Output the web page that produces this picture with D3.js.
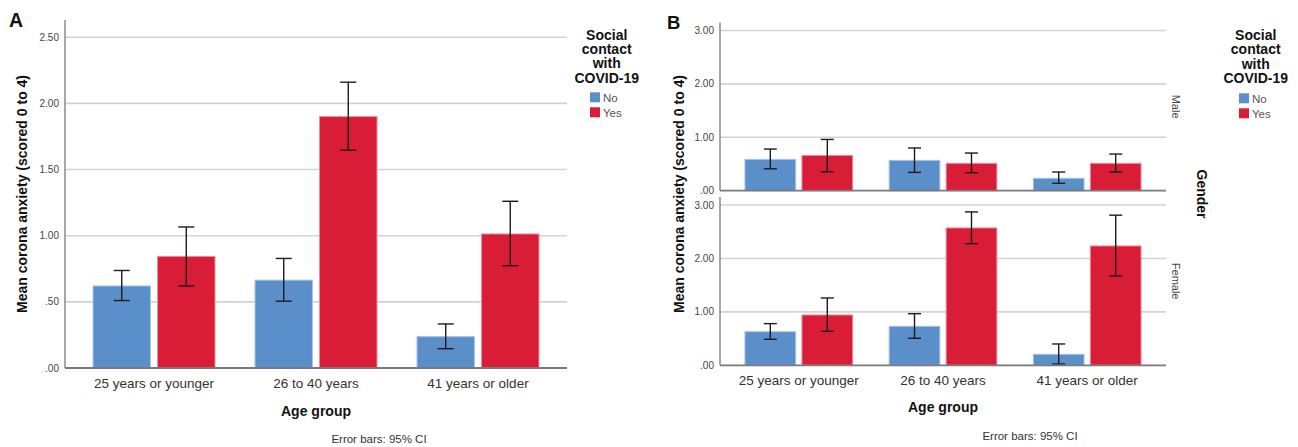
<!DOCTYPE html>
<html>
<head>
<meta charset="utf-8">
<script src="https://cdn.jsdelivr.net/npm/d3@7"></script>
<style>
  html, body { margin: 0; padding: 0; background: #fff; }
  svg { display: block; font-family: "Liberation Sans", Arial, sans-serif; }
</style>
</head>
<body>
<svg id="chart" width="1298" height="447"></svg>
<script>
// Categories
const ageGroups = ["25 years or younger", "26 to 40 years", "41 years or older"];
const contactLevels = ["No", "Yes"];
const genders = ["Male", "Female"];

// Panel A: mean corona anxiety by age group and social contact (95% CI)
const meanNoA  = [0.62, 0.664, 0.237];
const loNoA    = [0.51, 0.505, 0.146];
const hiNoA    = [0.737, 0.828, 0.333];
const meanYesA = [0.843, 1.90, 1.013];
const loYesA   = [0.62, 1.646, 0.773];
const hiYesA   = [1.066, 2.16, 1.26];

// Panel B, male
const meanNoMale  = [0.587, 0.568, 0.232];
const loNoMale    = [0.41, 0.343, 0.138];
const hiNoMale    = [0.78, 0.80, 0.35];
const meanYesMale = [0.66, 0.512, 0.512];
const loYesMale   = [0.355, 0.336, 0.35];
const hiYesMale   = [0.96, 0.705, 0.686];

// Panel B, female
const meanNoFemale  = [0.629, 0.73, 0.206];
const loNoFemale    = [0.487, 0.506, 0.024];
const hiNoFemale    = [0.78, 0.966, 0.399];
const meanYesFemale = [0.942, 2.571, 2.234];
const loYesFemale   = [0.637, 2.277, 1.672];
const hiYesFemale   = [1.26, 2.871, 2.81];

// Tick values
const ticksA = [0, 0.5, 1, 1.5, 2, 2.5];
const ticksB = [0, 1, 2, 3];

const fillColor = { No: "#5b8fca", Yes: "#d91d37" };
const edgeColor = { No: "#a7c4e6", Yes: "#ef8c99" };
const fmtTick = v => d3.format(".2f")(v).replace(/^0\./, ".");

const svg = d3.select("#chart");

function rows(mNo, lNo, hNo, mYes, lYes, hYes) {
  const out = [];
  ageGroups.forEach((g, i) => {
    out.push({ group: g, level: "No",  mean: mNo[i],  lo: lNo[i],  hi: hNo[i] });
    out.push({ group: g, level: "Yes", mean: mYes[i], lo: lYes[i], hi: hYes[i] });
  });
  return out;
}

// One bar panel: gridlines, bars, error bars, axes lines, y tick labels
function drawPanel(g, x0, y, data, ticks, capW) {
  const x1 = d3.scaleBand().domain(contactLevels).range([0, x0.bandwidth()]).paddingInner(0.11);
  const [xl, xr] = x0.range();
  const [yb, yt] = y.range();

  g.selectAll("line.grid").data(ticks.filter(t => t > 0)).join("line")
    .attr("x1", xl).attr("x2", xr)
    .attr("y1", d => y(d)).attr("y2", d => y(d))
    .attr("stroke", "#d3d3d3").attr("stroke-width", 1.6);

  g.selectAll("rect.bar").data(data).join("rect")
    .attr("x", d => x0(d.group) + x1(d.level))
    .attr("y", d => y(d.mean))
    .attr("width", x1.bandwidth())
    .attr("height", d => y(0) - y(d.mean))
    .attr("fill", d => fillColor[d.level])
    .attr("stroke", d => edgeColor[d.level])
    .attr("stroke-width", 1);

  const eb = g.selectAll("g.eb").data(data).join("g")
    .attr("transform", d => `translate(${x0(d.group) + x1(d.level) + x1.bandwidth() / 2},0)`);
  eb.append("line").attr("x1", 0).attr("x2", 0)
    .attr("y1", d => y(d.lo)).attr("y2", d => y(d.hi))
    .attr("stroke", "#1c1c1c").attr("stroke-width", 1.4);
  eb.append("line").attr("x1", -capW / 2).attr("x2", capW / 2)
    .attr("y1", d => y(d.hi)).attr("y2", d => y(d.hi))
    .attr("stroke", "#1c1c1c").attr("stroke-width", 1.4);
  eb.append("line").attr("x1", -capW / 2).attr("x2", capW / 2)
    .attr("y1", d => y(d.lo)).attr("y2", d => y(d.lo))
    .attr("stroke", "#1c1c1c").attr("stroke-width", 1.4);

  // axis lines
  g.append("line").attr("x1", xl).attr("x2", xl).attr("y1", yt).attr("y2", yb)
    .attr("stroke", "#8a8a8a").attr("stroke-width", 1.5);
  g.append("line").attr("x1", xl).attr("x2", xr).attr("y1", yb).attr("y2", yb)
    .attr("stroke", "#7a7a7a").attr("stroke-width", 1.8);

  g.selectAll("text.ytick").data(ticks).join("text")
    .attr("x", xl - 6).attr("y", d => y(d) + 3.5)
    .attr("text-anchor", "end")
    .attr("font-size", 10).attr("fill", "#444")
    .text(fmtTick);
}

function drawXLabels(g, x0, yPos) {
  g.selectAll("text.xtick").data(ageGroups).join("text")
    .attr("x", d => x0(d) + x0.bandwidth() / 2).attr("y", yPos)
    .attr("text-anchor", "middle").attr("font-size", 13.5).attr("fill", "#333")
    .text(d => d);
}

function drawLegend(g, cx, titleY, swX, swY) {
  const title = ["Social", "contact", "with", "COVID-19"];
  g.selectAll("text.lt").data(title).join("text")
    .attr("x", cx).attr("y", (d, i) => titleY + i * 14.4)
    .attr("text-anchor", "middle").attr("font-size", 14).attr("font-weight", "bold")
    .attr("fill", "#111").text(d => d);
  const items = g.selectAll("g.li").data(contactLevels).join("g")
    .attr("transform", (d, i) => `translate(${swX},${swY + i * 15})`);
  items.append("rect").attr("width", 10).attr("height", 10)
    .attr("fill", d => fillColor[d]);
  items.append("text").attr("x", 13).attr("y", 9.5)
    .attr("font-size", 11.5).attr("fill", "#555").text(d => d);
}

function yTitle(g, x, yc) {
  g.append("text")
    .attr("transform", `translate(${x},${yc}) rotate(-90)`)
    .attr("text-anchor", "middle").attr("font-size", 14).attr("font-weight", "bold")
    .attr("fill", "#111").text("Mean corona anxiety (scored 0 to 4)");
}

// ---------- Panel A ----------
const gA = svg.append("g");
const xA = d3.scaleBand().domain(ageGroups).range([65, 567]).paddingInner(0.247).paddingOuter(0.173);
const yA = d3.scaleLinear().domain([0, 2.63]).range([368, 20]);
drawPanel(gA, xA, yA, rows(meanNoA, loNoA, hiNoA, meanYesA, loYesA, hiYesA), ticksA, 16);
drawXLabels(gA, xA, 387.5);
gA.append("text").attr("x", 316).attr("y", 415.5).attr("text-anchor", "middle")
  .attr("font-size", 14).attr("font-weight", "bold").attr("fill", "#111").text("Age group");
gA.append("text").attr("x", 379).attr("y", 442.5).attr("text-anchor", "middle")
  .attr("font-size", 11.5).attr("fill", "#333").text("Error bars: 95% CI");
yTitle(gA, 27, 194);
gA.append("text").attr("x", 9).attr("y", 27).attr("font-size", 19.5).attr("font-weight", "bold")
  .attr("fill", "#111").text("A");
drawLegend(gA, 606.7, 39.5, 590, 92.3);

// ---------- Panel B ----------
const gB = svg.append("g");
const xB = d3.scaleBand().domain(ageGroups).range([720, 1166]).paddingInner(0.253).paddingOuter(0.173);
const panelRanges = { Male: [190.7, 22.5], Female: [365.3, 197] };
const bData = {
  Male: rows(meanNoMale, loNoMale, hiNoMale, meanYesMale, loYesMale, hiYesMale),
  Female: rows(meanNoFemale, loNoFemale, hiNoFemale, meanYesFemale, loYesFemale, hiYesFemale)
};
genders.forEach(gen => {
  const gp = gB.append("g");
  const y = d3.scaleLinear().domain([0, 3.15]).range(panelRanges[gen]);
  drawPanel(gp, xB, y, bData[gen], ticksB, 13);
  const yc = (panelRanges[gen][0] + panelRanges[gen][1]) / 2;
  gp.append("text")
    .attr("transform", `translate(${1172},${yc - (gen === "Male" ? 0 : -0)}) rotate(90)`)
    .attr("text-anchor", "middle").attr("font-size", 11).attr("fill", "#444").text(gen);
});
drawXLabels(gB, xB, 385);
gB.append("text").attr("x", 943).attr("y", 412).attr("text-anchor", "middle")
  .attr("font-size", 14).attr("font-weight", "bold").attr("fill", "#111").text("Age group");
gB.append("text").attr("x", 1030).attr("y", 440).attr("text-anchor", "middle")
  .attr("font-size", 11.5).attr("fill", "#333").text("Error bars: 95% CI");
gB.append("text")
  .attr("transform", `translate(1196.5,194) rotate(90)`)
  .attr("text-anchor", "middle").attr("font-size", 14).attr("font-weight", "bold")
  .attr("fill", "#111").text("Gender");
yTitle(gB, 684, 194);
gB.append("text").attr("x", 667).attr("y", 28.5).attr("font-size", 18.5).attr("font-weight", "bold")
  .attr("fill", "#111").text("B");
drawLegend(gB, 1255.7, 40, 1239, 93.3);
</script>
</body>
</html>
